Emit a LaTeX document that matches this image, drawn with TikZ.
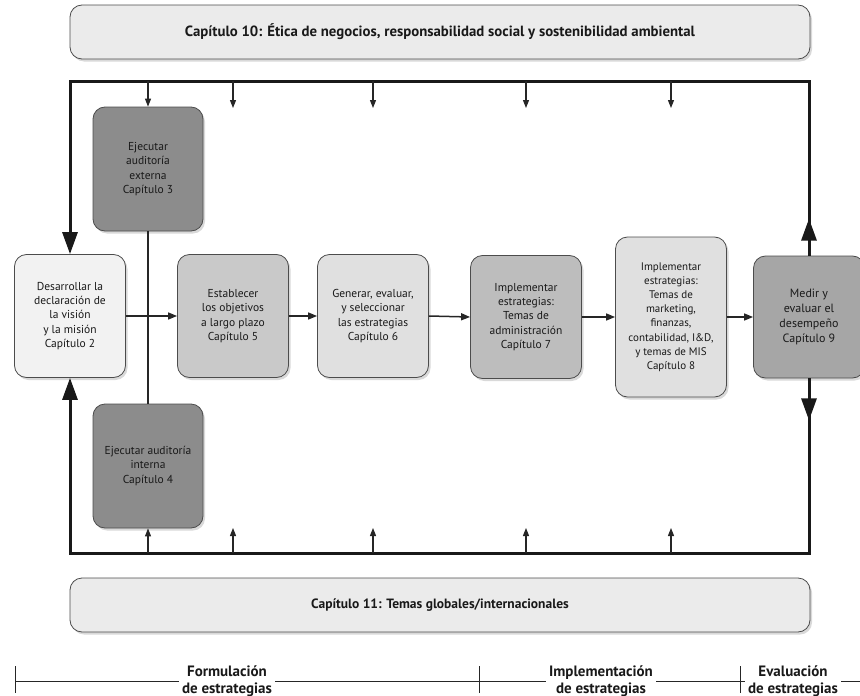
\documentclass[tikz,border=0pt]{standalone}
\usepackage{fontspec}
\setmainfont{PT Sans}
\usetikzlibrary{arrows.meta, shadows}

\definecolor{bandgray}{gray}{0.92}
\definecolor{visiongray}{gray}{0.95}
\definecolor{objgray}{gray}{0.79}
\definecolor{gengray}{gray}{0.88}
\definecolor{admgray}{gray}{0.74}
\definecolor{mktgray}{gray}{0.88}
\definecolor{evalgray}{gray}{0.65}
\definecolor{auditgray}{gray}{0.55}

\begin{document}
\begin{tikzpicture}[x=1pt, y=-1pt,
    box/.style={draw=black!70, line width=0.8pt, rounded corners=12pt, align=center,
        text=black!90, inner sep=1pt, font=\fontsize{11.5}{14.4}\selectfont,
        drop shadow={shadow xshift=2pt, shadow yshift=-2.5pt, opacity=0.3}},
    stepbox/.style={box, minimum width=111pt, minimum height=123pt},
    chapbox/.style={box, minimum width=740pt, minimum height=54pt, fill=bandgray,
        font=\fontsize{13.5}{16}\selectfont\bfseries},
    flow/.style={line width=1.5pt, black!85, -{Triangle[length=9pt, width=7pt]}},
    feed/.style={line width=1.1pt, black!85, -{Triangle[length=8pt, width=6pt]}},
    frame/.style={line width=3pt, black!90},
    bigtip/.style={-{Triangle[length=22pt, width=15pt]}},
    phase/.style={align=center, inner sep=3pt, text=black!90,
        font=\fontsize{15}{17}\selectfont\bfseries},
    timeline/.style={line width=0.9pt, black!85}]
\useasboundingbox (0,0) rectangle (860,696);

\node[chapbox, font=\fontsize{14.8}{17}\selectfont\bfseries] (cap10) at (440,32) {Capítulo 10: Ética de negocios, responsabilidad social y sostenibilidad ambiental};
\node[chapbox] (cap11) at (440,605) {Capítulo 11: Temas globales/internacionales};

\node[stepbox, fill=visiongray] (vision) at (70,316) {Desarrollar la\\declaración de\\la visión\\y la misión\\Capítulo 2};
\node[stepbox, fill=auditgray, minimum width=110pt, minimum height=124pt] (ext) at (148,169) {Ejecutar\\auditoría\\externa\\Capítulo 3};
\node[stepbox, fill=auditgray, minimum width=110pt, minimum height=124pt] (int) at (148,466) {Ejecutar auditoría\\interna\\Capítulo 4};
\node[stepbox, fill=objgray] (obj) at (233,316) {Establecer\\los objetivos\\a largo plazo\\Capítulo 5};
\node[stepbox, fill=gengray] (gen) at (373,316) {Generar, evaluar,\\y seleccionar\\las estrategias\\Capítulo 6};
\node[stepbox, fill=admgray] (adm) at (526,317) {Implementar\\estrategias:\\Temas de\\administración\\Capítulo 7};
\node[stepbox, fill=mktgray, minimum height=160pt, font=\fontsize{11}{14.2}\selectfont] (mkt) at (671,317) {Implementar\\estrategias:\\Temas de\\marketing,\\finanzas,\\contabilidad, I\&D,\\y temas de MIS\\Capítulo 8};
\node[stepbox, fill=evalgray, minimum height=122pt, font=\fontsize{12}{15}\selectfont] (eval) at (809,317) {Medir y\\evaluar el\\desempeño\\Capítulo 9};

\coordinate (tl) at (70,81);
\coordinate (bl) at (70,553);

\draw[frame, bigtip] (eval.north) -- (eval.north |- tl) -- (tl) -- (vision.north);
\draw[frame, bigtip] (eval.south) -- (eval.south |- bl) -- (bl) -- (vision.south);
\draw[frame, bigtip] (eval.north) -- ++(0,-37);
\draw[frame, bigtip] (eval.south) -- ++(0,42);

\draw[line width=1.1pt, black!85] (ext.south) -- (int.north);
\draw[flow] (vision.east) -- (obj.west);
\draw[flow] (obj.east) -- (gen.west);
\draw[flow] (gen.east) -- (adm.west);
\draw[flow] (adm.east) -- (mkt.west);
\draw[flow] (mkt.east) -- (eval.west);

\draw[feed] (ext.north |- tl) -- (ext.north);
\draw[feed] (int.south |- bl) -- (int.south);
\foreach \n in {obj,gen,adm,mkt} {
    \draw[feed] (\n.center |- tl) -- ++(0,27);
    \draw[feed] (\n.center |- bl) -- ++(0,-25);
}

\coordinate (t1) at (15,681);
\coordinate (t2) at (479,681);
\coordinate (t3) at (740,681);
\coordinate (tend) at (860,681);
\node[phase] (formul) at (227,681) {Formulación\\de estrategias};
\node[phase] (implem) at (601,681) {Implementación\\de estrategias};
\node[phase] (evalu) at (793,681) {Evaluación\\de estrategias};
\draw[timeline] (t1) -- (formul.west) (formul.east) -- (implem.west)
    (implem.east) -- (evalu.west) (evalu.east) -- (tend);
\foreach \t in {t1,t2,t3}
    \draw[timeline] ([yshift=15pt]\t) -- ([yshift=-12pt]\t);
\end{tikzpicture}
\end{document}
